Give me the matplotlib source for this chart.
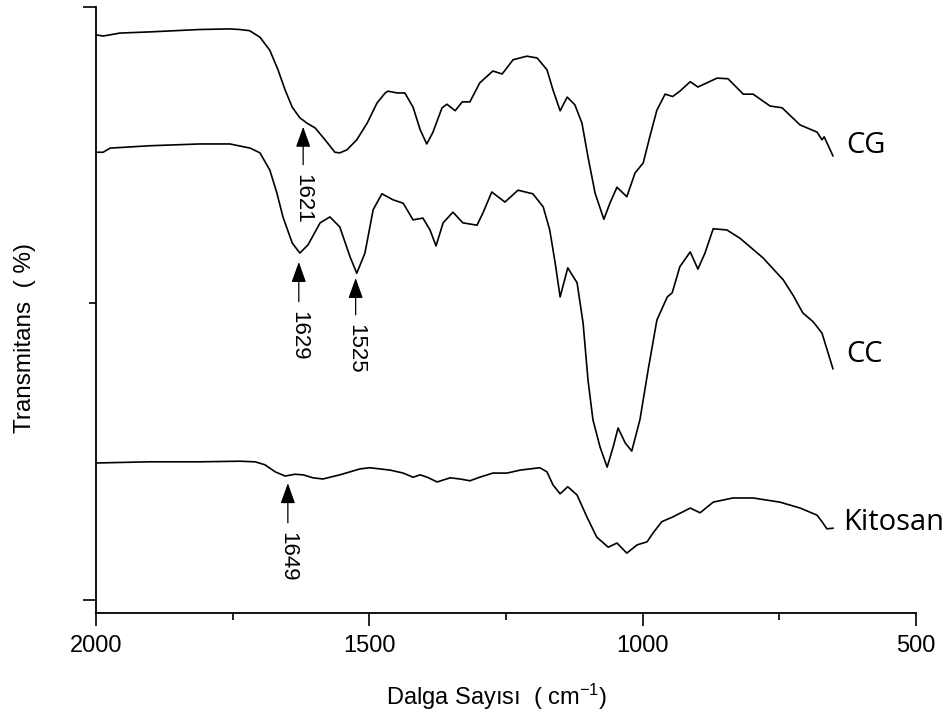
import numpy as np
import matplotlib
matplotlib.use("Agg")
import matplotlib.pyplot as plt
from matplotlib.ticker import MultipleLocator

plt.rcParams['font.family'] = ['Liberation Sans', 'DejaVu Sans']
plt.rcParams['mathtext.fontset'] = 'custom'
plt.rcParams['mathtext.rm'] = 'Liberation Sans'
plt.rcParams['mathtext.it'] = 'Liberation Sans:italic'

# spektrum verileri (dalga sayisi, transmitans)
cg_wn = [2000, 1987, 1956, 1901, 1810, 1755, 1737, 1719, 1700, 1682, 1667, 1654,
         1641, 1627, 1614, 1599, 1581, 1563, 1554, 1541, 1523, 1504, 1486, 1471,
         1466, 1449, 1435, 1420, 1407, 1395, 1384, 1367, 1358, 1343, 1330, 1316,
         1298, 1274, 1257, 1237, 1212, 1193, 1175, 1164, 1151, 1138, 1124, 1111,
         1100, 1087, 1071, 1060, 1047, 1029, 1014, 999, 987, 974, 959, 945, 932,
         913, 899, 864, 844, 816, 798, 767, 745, 712, 681, 672, 668, 652]
cg_t = [95.3, 95.1, 95.6, 95.8, 96.2, 96.3, 96.2, 96.0, 94.9, 92.7, 89.4, 86.0,
        83.1, 81.3, 80.4, 79.6, 77.6, 75.5, 75.4, 75.9, 77.6, 80.4, 83.8, 85.5,
        85.8, 85.5, 85.5, 83.1, 79.3, 76.9, 78.8, 83.0, 83.6, 82.5, 84.0, 84.0,
        87.2, 89.2, 88.7, 91.1, 91.7, 91.4, 89.4, 86.0, 82.5, 84.8, 83.5, 80.4,
        74.7, 68.6, 64.2, 66.9, 69.6, 68.0, 72.0, 73.7, 78.1, 82.6, 85.3, 84.9, 85.8,
        87.4, 86.5, 88.0, 87.9, 85.3, 85.3, 83.3, 83.0, 80.1, 78.9, 77.6, 78.1, 74.9]

cc_wn = [2000, 1987, 1974, 1901, 1810, 1755, 1718, 1700, 1682, 1669, 1658, 1641,
         1627, 1612, 1590, 1572, 1554, 1535, 1523, 1508, 1493, 1477, 1457, 1438,
         1420, 1402, 1389, 1378, 1365, 1347, 1329, 1303, 1292, 1276, 1252, 1228,
         1201, 1182, 1170, 1160, 1151, 1137, 1120, 1109, 1100, 1091, 1078, 1065,
         1054, 1045, 1032, 1020, 1005, 990, 974, 955, 946, 932, 913, 899, 886, 871,
         846, 822, 780, 743, 725, 707, 688, 672, 661, 652]
cc_t = [75.5, 75.5, 76.2, 76.6, 76.9, 76.9, 76.2, 75.4, 72.5, 68.6, 64.6, 60.2,
        58.5, 59.9, 63.6, 64.6, 62.9, 57.8, 55.1, 58.5, 65.8, 68.5, 67.5, 66.9,
        64.1, 64.4, 62.4, 59.7, 63.6, 65.4, 63.6, 63.2, 65.3, 68.8, 67.1, 69.1,
        68.5, 66.3, 62.4, 56.8, 51.1, 56.0, 53.5, 46.7, 37.1, 30.4, 25.8, 22.4,
        25.8, 29.0, 26.5, 25.1, 30.4, 38.8, 47.2, 51.1, 51.8, 56.2, 58.7, 55.8, 58.5, 62.6,
        62.4, 61.0, 57.7, 54.0, 51.4, 48.4, 46.9, 45.0, 41.7, 39.0]

kit_wn = [2000, 1901, 1810, 1737, 1709, 1691, 1672, 1654, 1636, 1621, 1603, 1585,
          1554, 1517, 1499, 1462, 1438, 1420, 1407, 1394, 1376, 1352, 1334, 1316,
          1298, 1274, 1248, 1224, 1188, 1175, 1164, 1151, 1137, 1120, 1102, 1084,
          1063, 1047, 1029, 1010, 992, 981, 965, 945, 913, 895, 871, 835, 798, 749,
          712, 681, 672, 663, 652]
kit_t = [23.1, 23.3, 23.3, 23.4, 23.3, 22.8, 21.6, 20.9, 21.2, 21.1, 20.6, 20.4,
         21.1, 22.1, 22.3, 21.9, 21.4, 20.7, 21.1, 20.7, 19.9, 20.6, 20.4, 20.1,
         20.7, 21.4, 21.4, 21.9, 22.3, 21.6, 19.4, 17.9, 19.1, 17.7, 14.0, 10.6,
         8.9, 9.6, 7.9, 9.3, 9.8, 11.3, 13.2, 14.0, 15.5, 14.7, 16.5, 17.2, 17.2, 16.5,
         15.5, 14.3, 13.2, 12.0, 12.1]

# isaretli piklar: (dalga sayisi, ok ucu, ok kuyrugu, etiket)
peaks = [(1621, 79.8, 73.4, "1621"),
         (1629, 57.0, 50.3, "1629"),
         (1525, 54.3, 48.1, "1525"),
         (1649, 19.7, 13.0, "1649")]

names = ["CG", "CC", "Kitosan"]
name_x = [628, 628, 634]
name_y = [75.4, 40.1, 11.8]

fig = plt.figure(figsize=(9.53, 7.19), dpi=100)
ax = fig.add_axes([0.1007, 0.1474, 0.8605, 0.8429])

for wn, t in [(cg_wn, cg_t), (cc_wn, cc_t), (kit_wn, kit_t)]:
    ax.plot(wn, t, color='black', lw=1.2, solid_joinstyle='round')

for wn, tip, tail, lab in peaks:
    ax.annotate("", xy=(wn, tip), xytext=(wn, tail),
                arrowprops=dict(arrowstyle='-|>,head_length=0.7,head_width=0.25',
                                color='black', lw=0.9,
                                mutation_scale=18, shrinkA=0, shrinkB=0))
    ax.text(wn, tail - 1.5, lab, rotation=-90, ha='center', va='top', fontsize=16)

for n, x, y in zip(names, name_x, name_y):
    ax.text(x, y, n, fontsize=21, family=['Open Sans', 'DejaVu Sans'],
            ha='left', va='baseline')

ax.set_xlim(2000, 500)
ax.set_ylim(-2.2, 100)
ax.xaxis.set_major_locator(MultipleLocator(500))
ax.xaxis.set_minor_locator(MultipleLocator(250))
ax.yaxis.set_major_locator(MultipleLocator(100))
ax.yaxis.set_minor_locator(MultipleLocator(50))
ax.set_yticklabels([])
ax.yaxis.set_ticklabels([], minor=True)

for s in ['top', 'right']:
    ax.spines[s].set_visible(False)
for s in ['left', 'bottom']:
    ax.spines[s].set_linewidth(1.3)

ax.tick_params(which='major', direction='out', length=9.5, width=1.2, labelsize=17, pad=6)
ax.tick_params(which='minor', direction='out', length=5, width=1.2)

ax.set_xlabel("Dalga Sayısı  ( cm$^{-1}$)", fontsize=17)
ax.xaxis.set_label_coords(0.489, -0.139)
ax.xaxis.label.set_va('center')
ax.set_ylabel("Transmitans  ( %)", fontsize=17.5)
ax.yaxis.set_label_coords(-0.0866, 0.454)
ax.yaxis.label.set_va('center')

fig.savefig("out.png", dpi=100)
